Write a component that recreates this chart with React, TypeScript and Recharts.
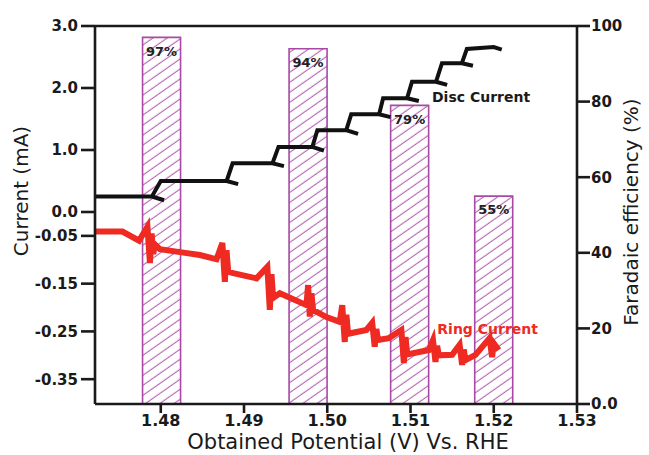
import React from 'react';
import {
  ComposedChart,
  Bar,
  Line,
  XAxis,
  YAxis,
  LabelList,
  ReferenceLine,
  ReferenceDot,
} from 'recharts';

// ---------- data ----------
const xTicks = [1.48, 1.49, 1.5, 1.51, 1.52, 1.53];
const xDomain = [1.4721, 1.53];

const discTicks = [0, 1, 2, 3];
const ringTicks = [-0.05, -0.15, -0.25, -0.35];
const RING_SCALE = 7.705; // lower (ring) part of left axis is expanded
const discDomain = [-3.097, 3];
const ringDomain = [discDomain[0] / RING_SCALE, discDomain[1] / RING_SCALE];

const feTicks = [0, 20, 40, 60, 80, 100];

const barPotential = [1.4801, 1.4977, 1.5099, 1.52];
const barFE = [97, 94, 79, 55];

const discV = [
  1.4721, 1.47893, 1.4804, 1.47893, 1.48, 1.48791, 1.4893, 1.48791, 1.48863,
  1.49342, 1.4948, 1.49342, 1.49414, 1.49821, 1.4996, 1.49821, 1.49881, 1.50228,
  1.5037, 1.50228, 1.50288, 1.50623, 1.5076, 1.50623, 1.50671, 1.50959, 1.511,
  1.50959, 1.51018, 1.51306, 1.5144, 1.51306, 1.51378, 1.51617, 1.5175, 1.51617,
  1.51677, 1.52, 1.52096,
];
const discI = [
  0.25, 0.25, 0.19, 0.25, 0.5, 0.5, 0.45, 0.5, 0.785, 0.785, 0.74, 0.785, 1.05,
  1.05, 0.99, 1.05, 1.32, 1.32, 1.26, 1.32, 1.575, 1.575, 1.53, 1.575, 1.835,
  1.835, 1.79, 1.835, 2.1, 2.1, 2.05, 2.1, 2.4, 2.4, 2.36, 2.4, 2.63, 2.66, 2.62,
];

const ringV = [
  1.4722, 1.4754, 1.4774, 1.4784, 1.4787, 1.4789, 1.4791, 1.4793, 1.4799, 1.4823,
  1.4847, 1.4867, 1.4874, 1.4877, 1.4879, 1.4881, 1.4887, 1.4915, 1.4928, 1.4931,
  1.4933, 1.4935, 1.4943, 1.4975, 1.4977, 1.4979, 1.4981, 1.4983, 1.4999, 1.5015,
  1.5018, 1.5021, 1.5023, 1.5025, 1.5047, 1.5054, 1.5057, 1.5059, 1.5061, 1.5074,
  1.5089, 1.5092, 1.5094, 1.5096, 1.5122, 1.5127, 1.513, 1.5132, 1.5134, 1.515,
  1.5159, 1.5162, 1.5164, 1.5166, 1.5178, 1.5195, 1.5198, 1.52, 1.5206,
];
const ringI = [
  -0.041, -0.041, -0.06, -0.031, -0.107, -0.045, -0.088, -0.068, -0.078, -0.084,
  -0.09, -0.099, -0.065, -0.146, -0.08, -0.125, -0.128, -0.139, -0.115, -0.205,
  -0.13, -0.18, -0.17, -0.195, -0.153, -0.219, -0.17, -0.205, -0.22, -0.23,
  -0.195, -0.272, -0.215, -0.255, -0.247, -0.232, -0.282, -0.245, -0.268, -0.264,
  -0.247, -0.316, -0.262, -0.298, -0.289, -0.268, -0.314, -0.28, -0.3, -0.299,
  -0.278, -0.32, -0.288, -0.31, -0.299, -0.264, -0.304, -0.275, -0.289,
];

const discLabel = { v: 1.51246, i: 1.855, text: 'Disc Current' };
const ringLabel = { v: 1.5131, i: -0.2449, text: 'Ring Current' };

// ---------- derived tables ----------
const barData = barPotential.map((v, k) => ({ v, fe: barFE[k] }));
const lineData = [
  ...discV.map((v, k) => ({ v, disc: discI[k] })),
  ...ringV.map((v, k) => ({ v, ring: ringI[k] })),
];
const leftTicks = [...ringTicks.map((t) => t * RING_SCALE), ...discTicks];

// ---------- styles ----------
const W = 649;
const H = 455;
const FONT = 'DejaVu Sans';
const INK = '#1a1a1a';
const AXIS_W = 2.6;
const PURPLE = '#a64aa4';
const RED = '#ee2a22';

const XTitle = ({ viewBox }: any) => (
  <text
    x={viewBox.x + viewBox.width / 2 + 12}
    y={viewBox.y + 45}
    textAnchor="middle"
    fontFamily={FONT}
    fontSize={21}
    fill={INK}
  >
    Obtained Potential (V) Vs. RHE
  </text>
);

const LeftTitle = ({ viewBox }: any) => {
  const x = viewBox.x + 21;
  const y = viewBox.y + viewBox.height / 2 - 24;
  return (
    <text
      x={x}
      y={y}
      transform={`rotate(-90, ${x}, ${y})`}
      textAnchor="middle"
      dominantBaseline="central"
      fontFamily={FONT}
      fontSize={20}
      fill={INK}
    >
      Current (mA)
    </text>
  );
};

const RightTitle = ({ viewBox }: any) => {
  const x = viewBox.x + 54;
  const y = viewBox.y + viewBox.height / 2 - 3;
  return (
    <text
      x={x}
      y={y}
      transform={`rotate(-90, ${x}, ${y})`}
      textAnchor="middle"
      dominantBaseline="central"
      fontFamily={FONT}
      fontSize={20}
      fill={INK}
    >
      Faradaic efficiency (%)
    </text>
  );
};

const tickStyle = { fontFamily: FONT, fontSize: 15, fontWeight: 'bold', fill: INK };

export default function App() {
  return (
    <div style={{ position: 'absolute', left: 0, top: 0, width: W, height: H, background: '#fff' }}>
      {/* bars layer */}
      <div style={{ position: 'absolute', left: 0, top: 0 }}>
        <ComposedChart
          width={W}
          height={H}
          data={barData}
          margin={{ top: 26, right: 72, bottom: 51, left: 95 }}
        >
          <defs>
            <pattern
              id="hatch"
              patternUnits="userSpaceOnUse"
              width="8.2"
              height="8.2"
              patternTransform="rotate(-35)"
            >
              <rect width="8.2" height="8.2" fill="#ffffff" />
              <line x1="0" y1="4" x2="8.2" y2="4" stroke="#b565b3" strokeWidth="1.1" />
            </pattern>
          </defs>
          <XAxis dataKey="v" type="number" domain={xDomain} allowDataOverflow hide />
          <YAxis yAxisId="fe" domain={[0, 100]} allowDataOverflow hide />
          <Bar
            yAxisId="fe"
            dataKey="fe"
            barSize={38}
            fill="url(#hatch)"
            stroke={PURPLE}
            strokeWidth={1.6}
            isAnimationActive={false}
          >
            <LabelList
              dataKey="fe"
              position="insideTop"
              offset={9}
              formatter={(v: any) => `${v}%`}
              fill="#222"
              fontSize={13}
              fontWeight="bold"
              fontFamily={FONT}
            />
          </Bar>
        </ComposedChart>
      </div>

      {/* lines + axes layer */}
      <div style={{ position: 'absolute', left: 0, top: 0 }}>
        <ComposedChart
          width={W}
          height={H}
          data={lineData}
          margin={{ top: 26, right: 0, bottom: 0, left: 0 }}
        >
          <XAxis
            dataKey="v"
            type="number"
            domain={xDomain}
            allowDataOverflow
            ticks={xTicks}
            tickFormatter={(v: number) => v.toFixed(2)}
            height={51}
            stroke={INK}
            strokeWidth={AXIS_W}
            tickSize={9}
            tickMargin={2}
            tick={{ ...tickStyle, fontSize: 16 }}
            tickLine={{ stroke: INK, strokeWidth: AXIS_W }}
            axisLine={{ stroke: INK, strokeWidth: AXIS_W }}
            label={<XTitle />}
          />
          <YAxis
            yAxisId="disc"
            orientation="left"
            type="number"
            domain={discDomain}
            allowDataOverflow
            ticks={leftTicks}
            interval={0}
            tickFormatter={(v: number) => (v >= 0 ? v.toFixed(1) : (v / RING_SCALE).toFixed(2))}
            width={95}
            tickSize={14}
            tickMargin={3}
            tick={tickStyle}
            tickLine={{ stroke: INK, strokeWidth: AXIS_W }}
            axisLine={{ stroke: INK, strokeWidth: AXIS_W }}
            label={<LeftTitle />}
          />
          <YAxis yAxisId="ring" type="number" domain={ringDomain} allowDataOverflow hide />
          <YAxis
            yAxisId="fe"
            orientation="right"
            type="number"
            domain={[0, 100]}
            allowDataOverflow
            ticks={feTicks}
            interval={0}
            tickFormatter={(v: number) => (v === 0 ? '0.0' : String(v))}
            width={72}
            tickSize={13}
            tickMargin={1}
            tick={tickStyle}
            tickLine={{ stroke: INK, strokeWidth: AXIS_W }}
            axisLine={{ stroke: INK, strokeWidth: AXIS_W }}
            label={<RightTitle />}
          />
          <ReferenceLine yAxisId="disc" y={discDomain[1]} stroke={INK} strokeWidth={AXIS_W} />
          <Line
            yAxisId="ring"
            dataKey="ring"
            type="linear"
            stroke={RED}
            strokeWidth={6}
            dot={false}
            activeDot={false}
            connectNulls
            isAnimationActive={false}
          />
          <Line
            yAxisId="disc"
            dataKey="disc"
            type="linear"
            stroke="#111"
            strokeWidth={4}
            dot={false}
            activeDot={false}
            connectNulls
            isAnimationActive={false}
          />
          <ReferenceDot
            yAxisId="disc"
            x={discLabel.v}
            y={discLabel.i}
            r={1}
            fill="none"
            stroke="none"
            label={{
              value: discLabel.text,
              position: 'right',
              offset: 0,
              fill: INK,
              fontSize: 14,
              fontWeight: 'bold',
              fontFamily: FONT,
            }}
          />
          <ReferenceDot
            yAxisId="ring"
            x={ringLabel.v}
            y={ringLabel.i}
            r={1}
            fill="none"
            stroke="none"
            label={{
              value: ringLabel.text,
              position: 'right',
              offset: 0,
              fill: RED,
              fontSize: 14,
              fontWeight: 'bold',
              fontFamily: FONT,
            }}
          />
        </ComposedChart>
      </div>
    </div>
  );
}
